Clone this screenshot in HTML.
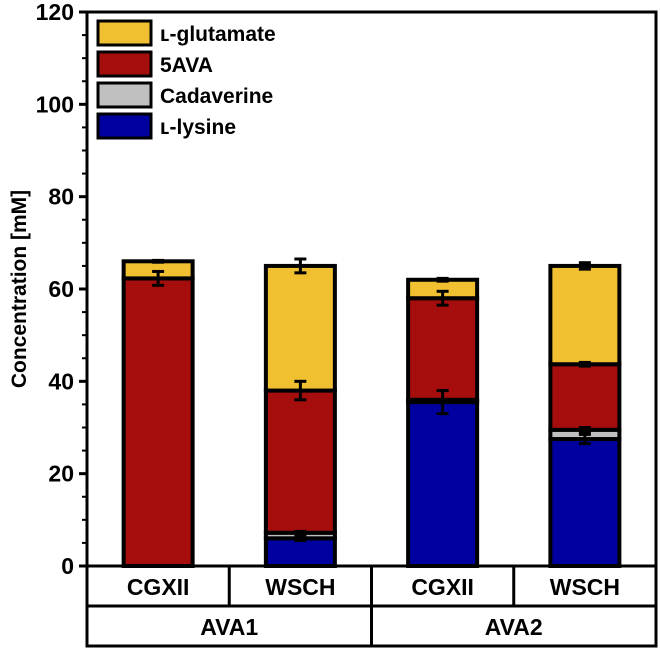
<!DOCTYPE html>
<html><head><meta charset="utf-8"><style>
html,body{margin:0;padding:0;background:#fff;}
svg{display:block;font-family:"Liberation Sans",Arial,sans-serif;font-weight:bold;}
</style></head><body>
<svg id="chart" width="660" height="650" viewBox="0 0 660 650"></svg>
<script>
const categories = ["CGXII","WSCH","CGXII","WSCH"];
const groups = ["AVA1","AVA2"];
const seriesNames = ["L-lysine","Cadaverine","5AVA","L-glutamate"];
const lysine = [0, 6, 35.5, 27.5];
const cadaverine = [0, 1.2, 0.5, 2];
const ava = [62.3, 30.8, 22, 14.2];
const glutamate = [3.7, 27, 4, 21.3];
const lysineErr = [0, 0.5, 2.5, 1];
const cadaverineErr = [0, 0.3, 0, 0.5];
const avaErr = [1.5, 2, 1.5, 0.4];
const glutamateErr = [0.2, 1.5, 0.3, 0.7];
const yTicks = [0,20,40,60,80,100,120];
const colors = ["#0000a0","#c0c0c0","#a60e0e","#f0c030"];

const svg = document.getElementById('chart');
const NS = "http://www.w3.org/2000/svg";
const L=87, R=656, T=12, B=566;
const yMax=120;
function y(v){return B-(v/yMax)*(B-T);}
const slotW=(R-L)/categories.length;
function xc(i){return L+slotW*(i+0.5);}
const barW=69;
function mk(tag,attrs,parent){const e=document.createElementNS(NS,tag);for(const k in attrs)e.setAttribute(k,attrs[k]);(parent||svg).appendChild(e);return e;}

const series=[lysine,cadaverine,ava,glutamate];
const errs=[lysineErr,cadaverineErr,avaErr,glutamateErr];
const barsG=mk('g',{});


const errG=mk('g',{});


categories.forEach((c,i)=>{
  let base=0;
  series.forEach((s,k)=>{
    const v=s[i];
    const top=base+v;
    const r=mk('rect',{x:xc(i)-barW/2,y:y(top),width:barW,height:Math.max(0,y(base)-y(top)),fill:colors[k],stroke:'#000','stroke-width':4},barsG);
    
    
    const e=errs[k][i];
    if(e>0){
      const g=mk('g',{stroke:'#000','stroke-width':3},errG);
      
      
      mk('line',{x1:xc(i),x2:xc(i),y1:y(top+e),y2:y(top-e)},g);
      mk('line',{x1:xc(i)-6,x2:xc(i)+6,y1:y(top+e),y2:y(top+e)},g);
      mk('line',{x1:xc(i)-6,x2:xc(i)+6,y1:y(top-e),y2:y(top-e)},g);
    }
    base=top;
  });
});

const frame=mk('rect',{x:L,y:T,width:R-L,height:B-T,fill:'none',stroke:'#000','stroke-width':3});



const yAx=mk('g',{});


for(let v=0;v<=yMax;v+=5){
  const major=v%20===0;
  mk('line',{x1:L-(major?8:5),x2:L,y1:y(v),y2:y(v),stroke:'#000','stroke-width':major?3:2},yAx);
}
yTicks.forEach(v=>{
  const t=mk('text',{x:L-13,y:y(v)+8,'text-anchor':'end','font-size':23},yAx);
  t.textContent=v;
  
  
});
const yt=mk('text',{x:0,y:0,transform:'translate(26,289) rotate(-90)','text-anchor':'middle','font-size':21});
yt.textContent='Concentration [mM]';



const tb=mk('g',{stroke:'#000','stroke-width':3,fill:'none'});


mk('rect',{x:L,y:B,width:R-L,height:80},tb);
mk('line',{x1:L,x2:R,y1:B+40,y2:B+40},tb);
for(let i=1;i<categories.length;i++){
  const xx=L+slotW*i;
  mk('line',{x1:xx,x2:xx,y1:B,y2:i===2?B+80:B+40},tb);
}
categories.forEach((c,i)=>{
  const t=mk('text',{x:xc(i),y:B+29,'text-anchor':'middle','font-size':23});
  t.textContent=c;
  
  
});
groups.forEach((g,j)=>{
  const t=mk('text',{x:L+(R-L)/4*(2*j+1),y:B+69,'text-anchor':'middle','font-size':23});
  t.textContent=g;
  
  
});

const legendLabels=["\u029F-glutamate","5AVA","Cadaverine","\u029F-lysine"];
const legendColors=[colors[3],colors[2],colors[1],colors[0]];
legendLabels.forEach((lb,k)=>{
  const g=mk('g',{});
  
  
  const yy=21+k*31;
  mk('rect',{x:98,y:yy,width:53,height:24,fill:legendColors[k],stroke:'#000','stroke-width':3},g);
  const t=mk('text',{x:160,y:yy+20,'font-size':21},g);
  t.textContent=lb;
});
</script>
</body></html>
